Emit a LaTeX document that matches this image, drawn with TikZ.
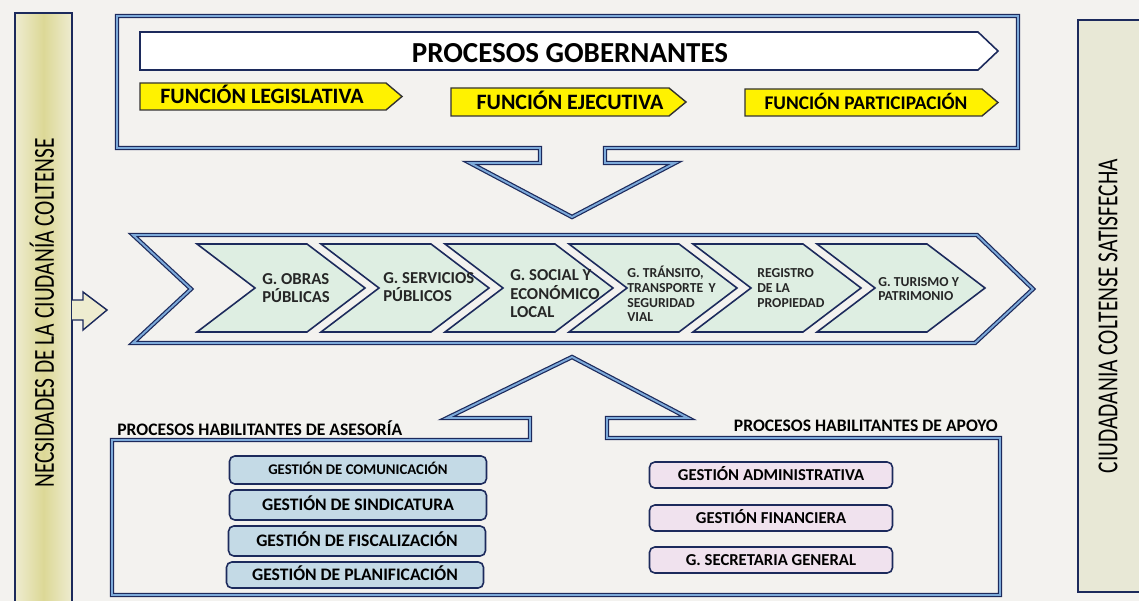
\documentclass[tikz,border=0pt]{standalone}
\usepackage{fontspec}
\setmainfont{Carlito}
\newfontfamily\condfont[FakeStretch=0.74]{Carlito}
\usetikzlibrary{calc}

\definecolor{navy}{RGB}{28,42,92}
\definecolor{lineblue}{RGB}{125,170,218}
\definecolor{funcyellow}{RGB}{255,242,0}
\definecolor{chevgreen}{RGB}{222,238,226}
\definecolor{asesblue}{RGB}{196,218,230}
\definecolor{apoyopink}{RGB}{240,226,238}
\definecolor{paper}{RGB}{243,242,239}
\definecolor{colkhaki}{RGB}{220,216,150}
\definecolor{collight}{RGB}{238,236,208}
\definecolor{colright}{RGB}{232,232,214}

\begin{document}
\begin{tikzpicture}[x=0.02cm, y=-0.02cm,
    frameline/.style={draw=navy, line width=0.7pt, double=lineblue, double distance=1.1pt},
    chev/.style={draw=navy, line width=0.9pt, fill=chevgreen},
    funcarrow/.style={draw=black!80, line width=0.8pt, fill=funcyellow},
    capsonly/.style={text height=#1, text depth=0pt},
    chevtext/.style={anchor=west, align=left, inner sep=0pt, text=black!85,
      font=\bfseries\fontsize{9.5}{10.5}\selectfont},
    smallchevtext/.style={chevtext, font=\bfseries\fontsize{7.8}{8.3}\selectfont},
    asesbox/.style={draw=navy, line width=0.9pt, fill=asesblue, rounded corners=3pt,
      minimum width=5.14cm, inner sep=0pt, capsonly=6.3pt},
    apoyobox/.style={draw=navy, line width=0.9pt, fill=apoyopink, rounded corners=3pt,
      minimum width=4.86cm, minimum height=0.52cm, inner sep=0pt, capsonly=6pt,
      font=\bfseries\fontsize{9.5}{10}\selectfont},
    columntext/.style={rotate=90, inner sep=0pt, font=\condfont\fontsize{16.5}{18}\selectfont}]

  \path[use as bounding box, fill=paper] (0,0) rectangle (1139,601);
  \clip (0,0) rectangle (1139,601);

  % columnas laterales
  \shade[left color=collight, right color=collight, middle color=colkhaki] (15,13) rectangle (72,610);
  \draw[navy, line width=0.8pt] (15,610) -- (15,13) -- (72,13) -- (72,610);
  \draw[navy, line width=0.8pt, fill=collight] (72,300) -- (83,300) -- (83,292) -- (107,310)
    -- (83,330) -- (83,320) -- (72,320);
  \node[columntext] (necesidades) at (42,313) {NECSIDADES DE LA CIUDANÍA COLTENSE};

  \draw[navy, line width=0.8pt, fill=colright] (1078,20) rectangle (1150,592);
  \node[columntext] (satisfecha) at (1108,316) {CIUDADANIA COLTENSE SATISFECHA};

  % procesos gobernantes
  \draw[frameline] (117,16) -- (1018,16) -- (1018,148) -- (605,148) -- (605,163) -- (675,163)
    -- (572,217) -- (470,163) -- (540,163) -- (540,148) -- (117,148) -- cycle;

  \draw[navy, line width=0.9pt, fill=white] (140,32) -- (978,32) -- (998,51) -- (978,70) -- (140,70) -- cycle;
  \node[capsonly=10.4pt, font=\bfseries\fontsize{16.5}{18}\selectfont] (gob) at (570,53) {PROCESOS GOBERNANTES};

  \draw[funcarrow] (140,83) -- (386,83) -- (402,96.5) -- (386,110) -- (140,110) -- cycle;
  \node[capsonly=7.9pt, font=\bfseries\fontsize{12.5}{14}\selectfont] (leg) at (262,97) {FUNCIÓN LEGISLATIVA};
  \draw[funcarrow] (451,88) -- (669,88) -- (686,102) -- (669,116) -- (451,116) -- cycle;
  \node[capsonly=7.9pt, font=\bfseries\fontsize{12.5}{14}\selectfont] (eje) at (570,102.5) {FUNCIÓN EJECUTIVA};
  \draw[funcarrow] (745,89) -- (982,89) -- (998,102.5) -- (982,116) -- (745,116) -- cycle;
  \node[capsonly=7pt, font=\bfseries\fontsize{11}{13}\selectfont] (par) at (866,103) {FUNCIÓN PARTICIPACIÓN};

  % cadena de valor
  \draw[frameline] (133,235) -- (977,235) -- (1033,289) -- (975,343) -- (133,343) -- (191,289) -- cycle;
  \foreach \i in {0,...,5}
    \draw[chev] ({197+124*\i},244) -- ++(110,0) -- ++(58,44) -- ++(-58,44) -- ++(-110,0) -- ++(58,-44) -- cycle;

  \node[chevtext] (obras) at (262,288) {G. OBRAS\\PÚBLICAS};
  \node[chevtext] (servicios) at (383,287) {G. SERVICIOS\\PÚBLICOS};
  \node[chevtext] (social) at (510,294) {G. SOCIAL Y\\ECONÓMICO\\LOCAL};
  \node[smallchevtext] (transito) at (627,294) {G. TRÁNSITO,\\TRANSPORTE\, Y\\SEGURIDAD\\VIAL};
  \node[smallchevtext] (registro) at (757,288) {REGISTRO\\DE LA\\PROPIEDAD};
  \node[smallchevtext] (turismo) at (878,289) {G. TURISMO Y\\PATRIMONIO};

  % procesos habilitantes
  \draw[frameline] (112,595) -- (112,440) -- (530,440) -- (530,418) -- (447,418) -- (572,357)
    -- (688,418) -- (607,418) -- (607,438) -- (1000,438) -- (1000,595) -- cycle;

  \node[anchor=west, inner sep=0pt, capsonly=6.3pt, font=\bfseries\fontsize{10}{12}\selectfont] (asesoria) at (117,430)
    {PROCESOS HABILITANTES DE ASESORÍA};
  \node[anchor=east, inner sep=0pt, capsonly=6.3pt, font=\bfseries\fontsize{10}{12}\selectfont] (apoyo) at (998,426)
    {PROCESOS HABILITANTES DE APOYO};

  \node[asesbox, minimum height=0.56cm, capsonly=5.3pt, font=\bfseries\fontsize{8.4}{10}\selectfont] (com) at (358,470) {GESTIÓN DE COMUNICACIÓN};
  \node[asesbox, minimum height=0.6cm, font=\bfseries\fontsize{10}{12}\selectfont] (sin) at (358,505) {GESTIÓN DE SINDICATURA};
  \node[asesbox, minimum height=0.6cm, font=\bfseries\fontsize{10}{12}\selectfont] (fis) at (357,541) {GESTIÓN DE FISCALIZACIÓN};
  \node[asesbox, minimum height=0.52cm, font=\bfseries\fontsize{10}{12}\selectfont] (pla) at (355,575) {GESTIÓN DE PLANIFICACIÓN};

  \node[apoyobox] (adm) at (771,475) {GESTIÓN ADMINISTRATIVA};
  \node[apoyobox] (fin) at (771,518) {GESTIÓN FINANCIERA};
  \node[apoyobox] (sec) at (771,560) {G. SECRETARIA GENERAL};

\end{tikzpicture}
\end{document}
